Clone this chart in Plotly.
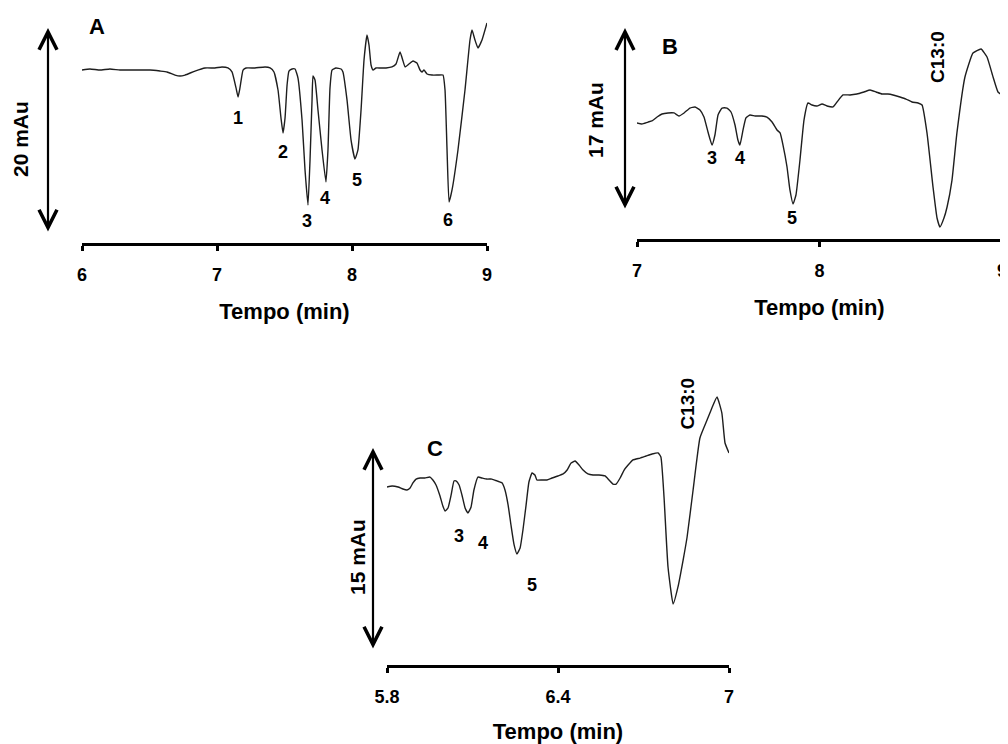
import plotly.graph_objects as go

# ---------------- data (time in min, signal in mAu) ----------------
tA = [6.000, 6.059, 6.133, 6.207, 6.281, 6.356, 6.430, 6.504, 6.578, 6.630, 6.689, 6.726,
      6.763, 6.837, 6.911, 6.985, 7.037, 7.081, 7.111, 7.141, 7.156, 7.170, 7.193, 7.215,
      7.281, 7.356, 7.393, 7.422, 7.452, 7.474, 7.489, 7.504, 7.519, 7.533, 7.556, 7.578,
      7.600, 7.630, 7.652, 7.674, 7.689, 7.704, 7.711, 7.726, 7.748, 7.778, 7.807, 7.822,
      7.837, 7.852, 7.881, 7.919, 7.933, 7.963, 7.993, 8.022, 8.044, 8.067, 8.089, 8.111,
      8.126, 8.141, 8.156, 8.178, 8.207, 8.252, 8.296, 8.326, 8.356, 8.378, 8.393, 8.422,
      8.452, 8.481, 8.504, 8.519, 8.533, 8.556, 8.593, 8.637, 8.674, 8.689, 8.704, 8.719,
      8.741, 8.785, 8.837, 8.874, 8.889, 8.911, 8.933, 8.963, 9.000]
sA = [15.90, 16.00, 15.90, 16.00, 15.90, 15.90, 15.90, 15.90, 15.80, 15.71, 15.41, 15.32,
      15.41, 15.80, 16.10, 16.10, 16.20, 16.10, 15.71, 14.15, 13.27, 14.15, 15.90, 16.10,
      16.10, 16.20, 16.10, 15.71, 13.95, 11.22, 9.76, 11.22, 14.44, 15.80, 16.00, 16.00,
      15.12, 11.02, 6.15, 2.73, 7.12, 12.98, 15.32, 14.93, 12.00, 8.10, 4.98, 8.10,
      14.15, 15.90, 16.10, 16.00, 15.71, 12.98, 9.07, 7.22, 8.10, 12.00, 16.88, 19.32,
      18.34, 16.39, 15.90, 16.10, 16.10, 16.10, 16.20, 16.49, 17.66, 16.78, 16.20, 16.49,
      16.78, 16.59, 15.90, 15.71, 15.90, 15.51, 15.41, 15.41, 15.41, 13.95, 8.10, 3.02,
      4.20, 8.10, 13.95, 18.83, 19.80, 18.83, 18.05, 18.83, 20.49]

tB = [7.000, 7.027, 7.060, 7.082, 7.110, 7.137, 7.170, 7.203, 7.230, 7.258, 7.290, 7.318,
      7.345, 7.367, 7.389, 7.411, 7.427, 7.444, 7.466, 7.493, 7.515, 7.537, 7.553, 7.564,
      7.581, 7.597, 7.619, 7.647, 7.685, 7.712, 7.740, 7.767, 7.784, 7.800, 7.822, 7.838,
      7.855, 7.871, 7.893, 7.915, 7.937, 7.959, 7.986, 8.014, 8.041, 8.074, 8.096, 8.129,
      8.167, 8.205, 8.244, 8.277, 8.310, 8.342, 8.375, 8.403, 8.441, 8.474, 8.507, 8.540,
      8.562, 8.589, 8.622, 8.644, 8.660, 8.682, 8.699, 8.726, 8.753, 8.797, 8.841, 8.885,
      8.918, 8.951, 8.978, 9.000]
sB = [8.13, 8.04, 8.22, 8.32, 8.69, 8.97, 9.07, 9.07, 8.79, 9.07, 9.53, 9.63,
      9.35, 8.69, 7.29, 6.07, 7.01, 8.88, 9.53, 9.53, 9.16, 7.94, 6.54, 6.07,
      7.48, 8.60, 8.88, 8.79, 8.79, 8.69, 8.22, 7.48, 7.20, 6.07, 4.02, 1.87,
      0.56, 1.40, 4.67, 8.41, 10.00, 9.81, 9.72, 9.91, 9.72, 9.63, 10.09, 10.75,
      10.75, 10.84, 11.03, 11.21, 11.03, 10.84, 10.84, 10.75, 10.56, 10.37, 10.09, 10.00,
      9.81, 7.20, 2.15, -0.75, -1.59, -0.75, 0.28, 2.80, 7.20, 12.43, 14.67, 15.05,
      14.30, 12.43, 11.03, 10.75]

tC = [5.800, 5.818, 5.839, 5.856, 5.870, 5.881, 5.891, 5.902, 5.916, 5.933, 5.951, 5.961,
      5.972, 5.986, 5.996, 6.004, 6.014, 6.025, 6.035, 6.042, 6.053, 6.063, 6.074, 6.084,
      6.095, 6.105, 6.119, 6.133, 6.151, 6.168, 6.186, 6.204, 6.214, 6.225, 6.235, 6.246,
      6.256, 6.267, 6.277, 6.288, 6.298, 6.309, 6.319, 6.326, 6.344, 6.361, 6.379, 6.400,
      6.418, 6.432, 6.446, 6.460, 6.474, 6.488, 6.505, 6.523, 6.544, 6.565, 6.579, 6.593,
      6.604, 6.618, 6.632, 6.646, 6.663, 6.688, 6.709, 6.730, 6.751, 6.761, 6.772, 6.786,
      6.804, 6.821, 6.839, 6.853, 6.874, 6.898, 6.923, 6.940, 6.958, 6.975, 6.986, 7.000]
sC = [12.10, 12.18, 12.10, 11.95, 11.88, 12.03, 12.40, 12.69, 12.77, 12.77, 12.84, 12.62,
      12.25, 11.43, 10.69, 10.32, 10.54, 11.51, 12.55, 12.55, 12.25, 11.51, 10.54, 10.17,
      10.62, 11.88, 12.84, 12.77, 12.69, 12.69, 12.55, 12.40, 11.88, 10.76, 9.28, 7.80,
      7.13, 7.57, 8.91, 10.76, 12.47, 13.14, 12.99, 12.62, 12.62, 12.62, 12.77, 12.92,
      13.07, 13.36, 13.88, 14.03, 13.73, 13.36, 13.07, 12.99, 12.99, 12.92, 12.62, 12.32,
      12.32, 12.77, 13.36, 13.73, 14.11, 14.25, 14.40, 14.55, 14.63, 14.33, 11.36, 6.16,
      3.41, 4.68, 6.68, 8.39, 11.88, 15.74, 17.07, 17.97, 18.78, 17.59, 15.37, 14.63]

# peak labels: (text, time, mAu)
labelsA = ["1", "2", "3", "4", "5", "6"]
labelsA_t = [7.156, 7.489, 7.667, 7.800, 8.037, 8.711]
labelsA_s = [11.22, 7.90, 1.17, 3.41, 5.17, 1.27]

labelsB = ["3", "4", "5", "C13:0"]
labelsB_t = [7.411, 7.564, 7.850, 8.649]
labelsB_s = [4.9, 4.9, -0.75, 14.3]

labelsC = ["3", "4", "5", "C13:0"]
labelsC_t = [6.053, 6.137, 6.309, 6.853]
labelsC_s = [8.46, 7.94, 4.83, 18.3]

ticksA = [6, 7, 8, 9]
ticksB = [7, 8, 9]
ticksC = [5.8, 6.4, 7]
ticksC_text = ["5.8", "6.4", "7"]

scaleA, scaleB, scaleC = 20, 17, 15   # mAu scale bars
scale_text = ["20 mAu", "17 mAu", "15 mAu"]

# ---------------- layout geometry ----------------
# target pixel positions in the 1008x744 window; the page body adds an 8px offset
OX, OY = 8, 8
W, H = 1000, 736


def fx(px):
    return (px - OX) / W


def fy(py):
    return 1 - (py - OY) / H


panels = {
    # name: x0px, x1px, xrange, ybottom px, ytop px, px of 0 mAu, px per mAu
    "A": dict(x0=82, x1=487, xr=[6, 9], yb=243, yt=12, y0=233, ppm=10.25),
    "B": dict(x0=637, x1=1002, xr=[7, 9], yb=239, yt=12, y0=210, ppm=10.7),
    "C": dict(x0=387, x1=729, xr=[5.8, 7], yb=665, yt=370, y0=650, ppm=13.47),
}

FONT = "Liberation Sans"
fig = go.Figure()
series = {"A": (tA, sA), "B": (tB, sB), "C": (tC, sC)}
suffix = {"A": "", "B": "2", "C": "3"}

for name, (t, s) in series.items():
    sf = suffix[name]
    fig.add_trace(go.Scatter(x=t, y=s, mode="lines", xaxis="x" + sf, yaxis="y" + sf,
                             line=dict(color="#1e1e1e", width=1.4, shape="spline", smoothing=0.4),
                             showlegend=False, hoverinfo="skip", cliponaxis=False))

tickinfo = {"A": (ticksA, [str(v) for v in ticksA]),
            "B": (ticksB, [str(v) for v in ticksB]),
            "C": (ticksC, ticksC_text)}

for name, p in panels.items():
    sf = suffix[name]
    xd = [fx(p["x0"]), fx(p["x1"])]
    yd = [fy(p["yb"]), fy(p["yt"])]
    yr = [(p["y0"] - p["yb"]) / p["ppm"], (p["y0"] - p["yt"]) / p["ppm"]]
    tv, tt = tickinfo[name]
    fig.update_layout(**{
        "xaxis" + sf: dict(domain=xd, range=p["xr"], anchor="y" + sf, showline=True,
                           linecolor="black", linewidth=2.5, ticks="outside", ticklen=5,
                           tickwidth=2.5, tickcolor="black", tickvals=tv, ticktext=tt,
                           showgrid=False, zeroline=False, ticklabelstandoff=9,
                           automargin=False,
                           tickfont=dict(family=FONT, size=18, color="black", weight="bold"),
                           title=dict(text="<b>Tempo (min)</b>", standoff=20,
                                      font=dict(family=FONT, size=22, color="black"))),
        "yaxis" + sf: dict(domain=yd, range=yr, anchor="x" + sf, visible=False,
                           automargin=False),
    })

ann = []


def lab(text, x, y, sf, size=18, angle=0):
    ann.append(dict(text="<b>%s</b>" % text, x=x, y=y, xref="x" + sf, yref="y" + sf,
                    xanchor="center", yanchor="middle",
                    showarrow=False, textangle=angle,
                    font=dict(family=FONT, size=size, color="black")))


for txt, x, y in zip(labelsA, labelsA_t, labelsA_s):
    lab(txt, x, y, "")
for txt, x, y in zip(labelsB, labelsB_t, labelsB_s):
    lab(txt, x, y, "2", size=19 if txt.startswith("C") else 18,
        angle=-90 if txt.startswith("C") else 0)
for txt, x, y in zip(labelsC, labelsC_t, labelsC_s):
    lab(txt, x, y, "3", size=19 if txt.startswith("C") else 18,
        angle=-90 if txt.startswith("C") else 0)

# scale bars (double-headed arrows) and their labels
bars = [("", 48, scaleA, 20, 139, "A", 97, 27),
        ("2", 625, scaleB, 595, 120, "B", 670, 47),
        ("3", 373, scaleC, 357, 557, "C", 435, 448)]
for (sf, xpx, val, lx, ly, letter, px, py), stext in zip(bars, scale_text):
    ann.append(dict(text="", x=fx(xpx), xref="paper", y=val, yref="y" + sf,
                    ax=0, ay=0, axref="pixel", ayref="y" + sf, showarrow=True,
                    arrowhead=5, startarrowhead=5, arrowside="end+start",
                    arrowsize=1.6, startarrowsize=1.6, arrowwidth=2.2, arrowcolor="black",
                    standoff=0, startstandoff=0))
    ann.append(dict(text="<b>%s</b>" % stext, x=fx(lx), y=fy(ly), xref="paper", yref="paper",
                    xanchor="center", yanchor="middle",
                    showarrow=False, textangle=-90,
                    font=dict(family=FONT, size=21, color="black")))
    ann.append(dict(text="<b>%s</b>" % letter, x=fx(px), y=fy(py), xref="paper", yref="paper",
                    xanchor="center", yanchor="middle",
                    showarrow=False, font=dict(family=FONT, size=22, color="black")))

fig.update_layout(width=W, height=H, margin=dict(l=0, r=0, t=0, b=0, autoexpand=False),
                  paper_bgcolor="white", plot_bgcolor="white", annotations=ann,
                  showlegend=False)

fig.write_html("out.html")
